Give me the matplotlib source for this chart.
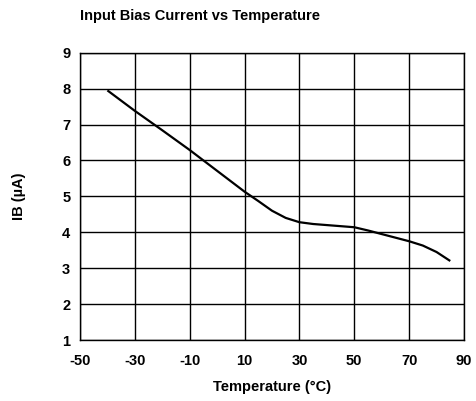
import matplotlib
matplotlib.use("Agg")
import matplotlib.pyplot as plt

temps = [-40, -30, -20, -10, 0, 10, 15, 20, 25, 30, 35, 40, 45, 50, 55, 60, 65, 70, 75, 80, 85]
ib = [7.95, 7.38, 6.84, 6.29, 5.71, 5.13, 4.87, 4.6, 4.4, 4.28, 4.23, 4.2, 4.17, 4.14, 4.05, 3.95, 3.85, 3.75, 3.63, 3.45, 3.2]
xticks = [-50, -30, -10, 10, 30, 50, 70, 90]
yticks = [1, 2, 3, 4, 5, 6, 7, 8, 9]

plt.rcParams['font.family'] = ['Liberation Sans', 'DejaVu Sans']
plt.rcParams['font.weight'] = 'bold'

fig = plt.figure(figsize=(4.77, 4.01), dpi=100)
ax = fig.add_axes([0.1677, 0.1521, 0.805, 0.7165])
ax.plot(temps, ib, color='black', lw=1.6, solid_capstyle='butt', solid_joinstyle='round')
ax.set_xlim(-50, 90)
ax.set_ylim(1, 9)
ax.set_xticks(xticks)
ax.set_yticks(yticks)
ax.set_xticklabels([str(t) for t in xticks], fontsize=10.5, fontweight='bold')
ax.set_yticklabels([str(t) for t in yticks], fontsize=10.5, fontweight='bold')
ax.grid(True, color='black', lw=1)
ax.tick_params(axis='x', length=0, pad=10)
ax.tick_params(axis='y', length=0, pad=7)
for s in ax.spines.values():
    s.set_linewidth(1)
ax.set_xlabel('Temperature (°C)', fontsize=10.5, fontweight='bold', va='center')
ax.xaxis.set_label_coords(0.5, -0.164)
ax.set_ylabel('IB (µA)', fontsize=10.5, fontweight='bold', va='center')
ax.yaxis.set_label_coords(-0.158, 0.5)
fig.text(80/477, 1-16/401, 'Input Bias Current vs Temperature', fontsize=10.5, fontweight='bold', va='center', ha='left')
fig.savefig('out.png', dpi=100)
